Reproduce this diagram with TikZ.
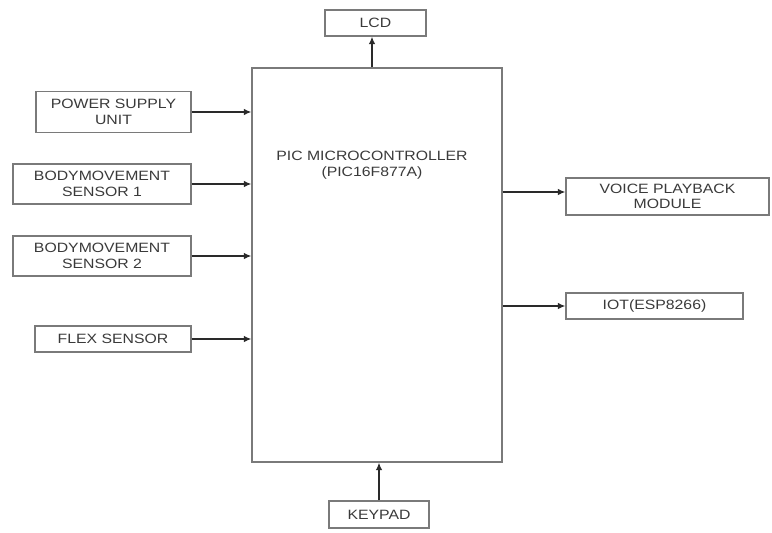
\documentclass[tikz,border=0pt]{standalone}
\usepackage{fontspec}
\setmainfont[FakeStretch=1.17]{Liberation Sans}
\usetikzlibrary{arrows.meta}
\definecolor{boxline}{HTML}{7A7A7A}
\definecolor{txtcol}{HTML}{3A3A3A}
\definecolor{arrcol}{HTML}{2A2A2A}
\begin{document}
\begin{tikzpicture}[x=1pt,y=-1pt,
  blk/.style={draw=boxline,line width=1.3pt,rectangle,inner sep=0pt,align=center,
    text=txtcol,font=\fontsize{13.5}{15.5}\selectfont},
  arr/.style={draw=arrcol,line width=1.3pt,-{Latex[length=7.5pt,width=6.5pt]}}]
\path[use as bounding box,fill=white] (0,0) rectangle (772,533);
\node[blk,minimum width=250pt,minimum height=394pt] (main) at (377,265) {};
\node[text=txtcol,font=\fontsize{13.5}{16}\selectfont,align=center] (mtxt) at (372,165) {PIC MICROCONTROLLER\\(PIC16F877A)};
\node[blk,minimum width=155pt,minimum height=41pt] (pwr) at (113.5,112) {POWER SUPPLY\\UNIT};
\node[blk,minimum width=178pt,minimum height=40pt] (bm1) at (102,184) {BODYMOVEMENT\\SENSOR 1};
\node[blk,minimum width=178pt,minimum height=40pt] (bm2) at (102,256) {BODYMOVEMENT\\SENSOR 2};
\node[blk,minimum width=156pt,minimum height=26pt] (flex) at (113,339) {FLEX SENSOR};
\node[blk,minimum width=101pt,minimum height=26pt] (lcd) at (375.5,23) {LCD};
\node[blk,minimum width=100pt,minimum height=27pt] (key) at (379,514.5) {KEYPAD};
\node[blk,minimum width=203pt,minimum height=37pt] (voice) at (667.5,196.5) {VOICE PLAYBACK\\MODULE};
\node[blk,minimum width=177pt,minimum height=26pt] (iot) at (654.5,306) {IOT(ESP8266)};
\draw[arr] (pwr.east) -- (pwr.east -| main.west);
\draw[arr] (bm1.east) -- (bm1.east -| main.west);
\draw[arr] (bm2.east) -- (bm2.east -| main.west);
\draw[arr] (flex.east) -- (flex.east -| main.west);
\draw[arr] ([xshift=-3.5pt]lcd.south |- main.north) -- ([xshift=-3.5pt]lcd.south);
\draw[arr] (key.north) -- (key.north |- main.south);
\draw[arr] ([yshift=4.5pt]voice.west -| main.east) -- ([yshift=4.5pt]voice.west);
\draw[arr] (iot.west -| main.east) -- (iot.west);
\end{tikzpicture}
\end{document}
